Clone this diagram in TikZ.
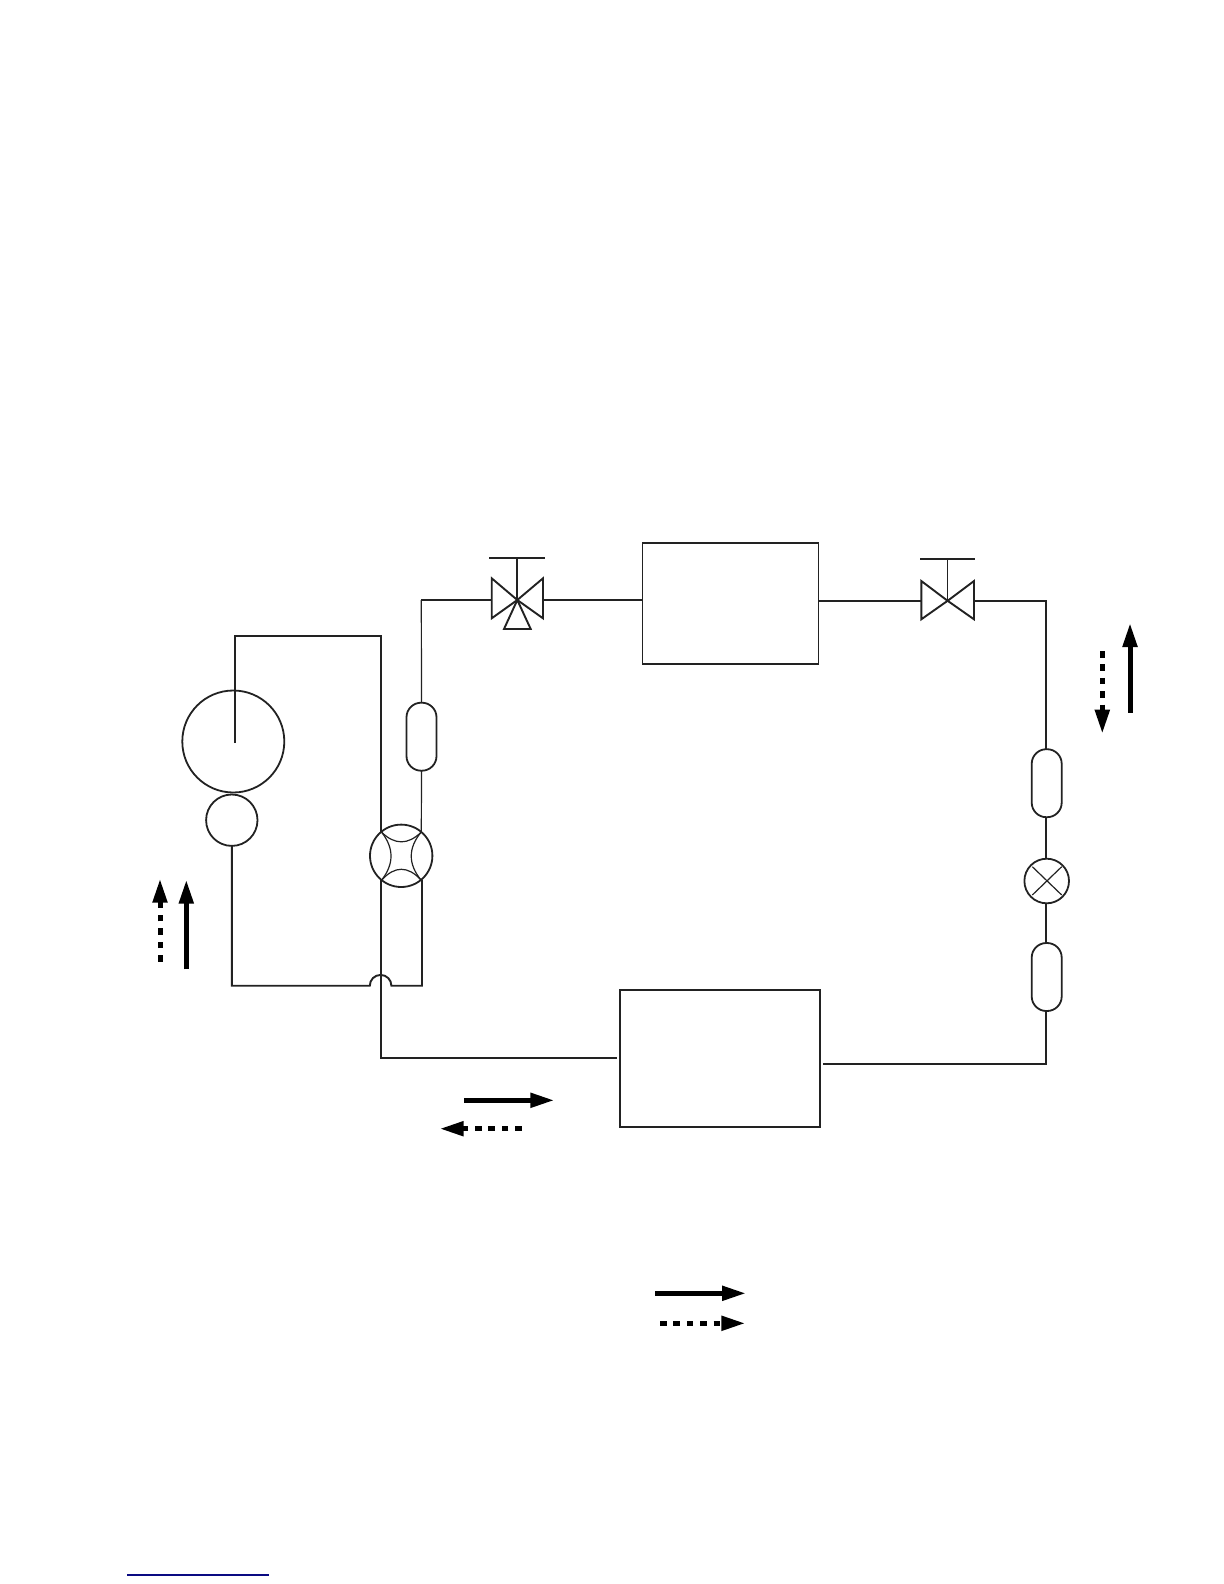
\documentclass[tikz,border=0pt]{standalone}
\usetikzlibrary{arrows.meta}
\definecolor{ink}{HTML}{222222}
\tikzset{
  pipe/.style={draw=ink,line width=0.95pt,line cap=butt,line join=miter},
  thinpipe/.style={draw=ink,line width=0.6pt},
  part/.style={draw=ink,line width=0.9pt,inner sep=0pt,outer sep=0pt,fill=none},
  roundpart/.style={part,circle},
  pill/.style={part,rectangle,rounded corners=7.3pt,minimum width=15pt,minimum height=34pt},
  valvebody/.style={draw=ink,line width=0.95pt,line join=miter},
  flowtip/.style={-{Triangle[length=12pt,width=7pt]},shorten >=-1pt},
  flow/.style={draw=black,line width=2.5pt,flowtip},
  dottedflow/.style={draw=black,line width=2.5pt,flowtip,dash pattern=on 3.3pt off 3.4pt},
}
\begin{document}
\begin{tikzpicture}[x=0.5pt,y=-0.5pt]
\useasboundingbox (0,0) rectangle (1224,1584);
% main parts
\node[part,rectangle,minimum width=88pt,minimum height=60.2pt] (condenser) at (730.5,603.4) {};
\node[part,rectangle,minimum width=100pt,minimum height=68.2pt] (evap) at (720,1058.4) {};
\node[roundpart,minimum size=51pt] (comp) at (233.3,741.5) {};
\node[roundpart,minimum size=25.7pt] (sep) at (231.8,820.2) {};
\node[roundpart,minimum size=31.2pt] (rev) at (401.2,855.8) {};
\node[roundpart,minimum size=22.3pt] (exp) at (1046.7,881) {};
\node[pill] (acc) at (421.5,736.7) {};
\node[pill] (filtA) at (1046.7,783.2) {};
\node[pill] (filtB) at (1046.7,977) {};
% junctions
\coordinate (vA) at (517.3,600);
\coordinate (vB) at (947.6,600.8);
\coordinate (vAl) at (491.7,600);
\coordinate (vAr) at (543,600);
\coordinate (vBl) at (921.3,600.8);
\coordinate (vBr) at (974,600.8);
\coordinate (cTopL) at (234.7,635.7);
\coordinate (cTopR) at (381,635.7);
\coordinate (cEnd) at (234.7,743);
\coordinate (revTL) at (381,832);
\coordinate (revTR) at (421.3,832);
\coordinate (revBL) at (381,880);
\coordinate (revBR) at (422,880);
\coordinate (accCorner) at (421.3,600);
\coordinate (lowL) at (231.8,985.7);
\coordinate (humpL) at (369.8,985.7);
\coordinate (lowR) at (422,985.7);
\coordinate (evapLcorner) at (381,1058);
\coordinate (evapLend) at (616.7,1058);
\coordinate (evapRend) at (822.7,1063.7);
\coordinate (rightCorner) at (1046,1063.7);
\coordinate (topRight) at (1046,600.8);
\coordinate (condR) at (818.4,600.8);
% pipes
\draw[pipe] (cEnd) -- (cTopL) -- (cTopR) -- (revTL);
\draw[pipe] (sep.south) -- (lowL) -- (humpL) arc[start angle=180,end angle=0,radius=5.4pt] -- (lowR) -- (revBR);
\draw[pipe] (revBL) -- (evapLcorner) -- (evapLend);
\draw[thinpipe] (revTR) -- (acc.south);
\draw[thinpipe] (acc.north) -- (accCorner);
\draw[pipe] (accCorner) -- (vAl);
\draw[pipe] (vAr) -- (vAr -| condenser.west);
\draw[pipe] (condR) -- (vBl);
\draw[pipe] (vBr) -- (topRight) -- (filtA.north -| topRight);
\draw[pipe] (filtA.south -| topRight) -- (exp.north -| topRight);
\draw[pipe] (exp.south -| topRight) -- (filtB.north -| topRight);
\draw[pipe] (filtB.south -| rightCorner) -- (rightCorner) -- (evapRend);
% three-way service valve
\coordinate (vAlt) at (491.7,578.3);
\coordinate (vAlb) at (491.7,618.3);
\coordinate (vArt) at (543,578.3);
\coordinate (vArb) at (543,618.3);
\coordinate (vAbl) at (504,629);
\coordinate (vAbr) at (530.7,629);
\coordinate (vAbarL) at (489.3,558);
\coordinate (vAbarR) at (545.3,558);
\coordinate (vAbarM) at (517.3,558);
\draw[valvebody] (vA) -- (vAlt) -- (vAlb) -- cycle;
\draw[valvebody] (vA) -- (vArt) -- (vArb) -- cycle;
\draw[valvebody] (vA) -- (vAbl) -- (vAbr) -- cycle;
\draw[pipe] (vAbarL) -- (vAbarR);
\draw[pipe] (vAbarM) -- (vA);
% two-way service valve
\coordinate (vBlt) at (921.3,581);
\coordinate (vBlb) at (921.3,619.3);
\coordinate (vBrt) at (974,581);
\coordinate (vBrb) at (974,619.3);
\coordinate (vBbarL) at (920,559);
\coordinate (vBbarR) at (975.3,559);
\coordinate (vBbarM) at (947.6,559);
\draw[valvebody] (vB) -- (vBlt) -- (vBlb) -- cycle;
\draw[valvebody] (vB) -- (vBrt) -- (vBrb) -- cycle;
\draw[pipe] (vBbarL) -- (vBbarR);
\draw[thinpipe] (vBbarM) -- (vB);
% four-way valve arcs
\coordinate (qTL) at (381.7,832.3);
\coordinate (qTR) at (421,832.3);
\coordinate (qBL) at (381.7,880);
\coordinate (qBR) at (421,880);
\draw[thinpipe] (qTL) .. controls (394.8,845) and (407.9,845) .. (qTR);
\draw[thinpipe] (qBL) .. controls (394.8,865.7) and (407.9,865.7) .. (qBR);
\draw[thinpipe] (qTL) .. controls (394.1,848.2) and (394.1,864) .. (qBL);
\draw[thinpipe] (qTR) .. controls (408,848.2) and (408,864) .. (qBR);
% expansion valve cross
\coordinate (xA) at (1032.3,866.7);
\coordinate (xB) at (1061.7,895);
\coordinate (xC) at (1061.7,866.7);
\coordinate (xD) at (1032.3,895);
\draw[thinpipe] (xA) -- (xB);
\draw[thinpipe] (xC) -- (xD);
% flow arrows
\coordinate (aRs) at (1130,712.7);
\coordinate (aRe) at (1130,625);
\draw[flow] (aRs) -- (aRe);
\coordinate (aRds) at (1102.3,651);
\coordinate (aRde) at (1102.3,731.7);
\draw[dottedflow] (aRds) -- (aRde);
\coordinate (aLs) at (186.3,969.3);
\coordinate (aLe) at (186.3,881.7);
\draw[flow] (aLs) -- (aLe);
\coordinate (aLds) at (160,961.5);
\coordinate (aLde) at (160,880.7);
\draw[dottedflow] (aLds) -- (aLde);
\coordinate (aBs) at (464,1100.3);
\coordinate (aBe) at (552.3,1100.3);
\draw[flow] (aBs) -- (aBe);
\coordinate (aBds) at (521.7,1128.7);
\coordinate (aBde) at (441.7,1128.7);
\draw[dottedflow] (aBds) -- (aBde);
\coordinate (aKs) at (655.3,1293.3);
\coordinate (aKe) at (744,1293.3);
\draw[flow] (aKs) -- (aKe);
\coordinate (aKds) at (660,1323.3);
\coordinate (aKde) at (743.3,1323.3);
\draw[dottedflow] (aKds) -- (aKde);
% bottom rule
\coordinate (ruleL) at (127,1575);
\coordinate (ruleR) at (269,1575);
\draw[draw={rgb,255:red,10;green,10;blue,130},line width=0.6pt] (ruleL) -- (ruleR);
\end{tikzpicture}
\end{document}
